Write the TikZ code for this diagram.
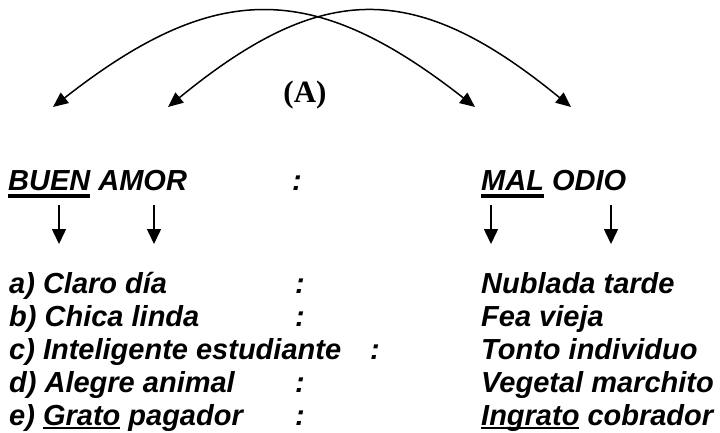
\documentclass[tikz,border=0pt]{standalone}
\usepackage{fontspec}
\setmainfont{Liberation Sans}
\newfontfamily\serifA{Liberation Serif}
\usetikzlibrary{arrows.meta}
\newcommand\myul[3]{\setbox0\hbox{#3}\rlap{\rule[#1]{\wd0}{#2}}\box0\relax}
\tikzset{
  txt/.style={inner sep=0pt, anchor=base west, font=\fontsize{29}{33}\selectfont\bfseries\itshape},
  arc/.style={line width=1.5pt, {Triangle[length=15pt,width=13pt]}-{Triangle[length=15pt,width=13pt]}},
  down/.style={line width=1.5pt, -{Triangle[length=15pt,width=14pt]}},
  lbl/.style={inner sep=0pt, font=\fontsize{31}{35}\selectfont\serifA\bfseries}
}
\begin{document}
\begin{tikzpicture}[x=1pt,y=-1pt]
\useasboundingbox (0,0) rectangle (720,432);
% top arcs
\coordinate (L1) at (53,107);
\coordinate (L2) at (168,107);
\coordinate (R1) at (475,107);
\coordinate (R2) at (571,107);
\draw[arc] (L1) .. controls (215,-20) and (313,-20) .. (R1);
\draw[arc] (L2) .. controls (323,-20) and (416,-20) .. (R2);
\node[lbl] (A) at (305,95) {(A)};
% header
\node[txt] (h1) at (8,190) {\myul{-8pt}{4pt}{BUEN} AMOR};
\node[txt] (hc) at (292,190) {:};
\node[txt] (h2) at (481,190) {\myul{-8pt}{4pt}{MAL} ODIO};
% vertical arrows
\coordinate (v1s) at (59,205);  \coordinate (v1e) at (59,244);
\coordinate (v2s) at (154,205); \coordinate (v2e) at (154,244);
\coordinate (v3s) at (491,205); \coordinate (v3e) at (491,244);
\coordinate (v4s) at (611,205); \coordinate (v4e) at (611,244);
\draw[down] (v1s) -- (v1e);
\draw[down] (v2s) -- (v2e);
\draw[down] (v3s) -- (v3e);
\draw[down] (v4s) -- (v4e);
% rows
\node[txt] (la) at (9,293) {a) Claro día};
\node[txt] (ca) at (295,293) {:};
\node[txt] (ra) at (481,293) {Nublada tarde};
\node[txt] (lb) at (9,326) {b) Chica linda};
\node[txt] (cb) at (295,326) {:};
\node[txt] (rb) at (481,326) {Fea vieja};
\node[txt] (lc) at (9,359) {c) Inteligente estudiante};
\node[txt] (cc) at (370,359) {:};
\node[txt] (rc) at (481,359) {Tonto individuo};
\node[txt] (ld) at (9,392) {d) Alegre animal};
\node[txt] (cd) at (295,392) {:};
\node[txt] (rd) at (481,392) {Vegetal marchito};
\node[txt] (le) at (9,425) {e) \myul{-4pt}{2pt}{Grato} pagador};
\node[txt] (ce) at (295,425) {:};
\node[txt] (re) at (481,425) {\myul{-4pt}{2pt}{Ingrato} cobrador};
\end{tikzpicture}
\end{document}
